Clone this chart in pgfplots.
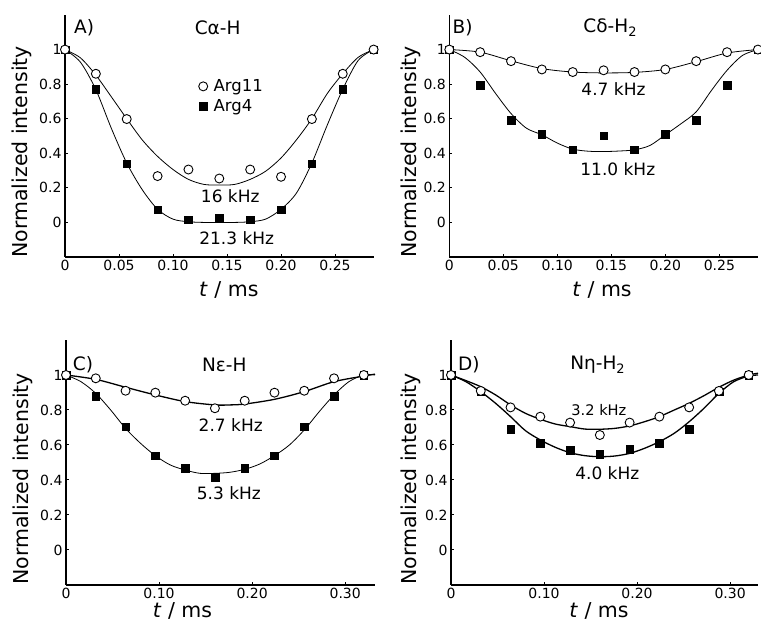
\documentclass[border=0pt]{standalone}
\usepackage{pgfplots}
\pgfplotsset{compat=1.18}
\usepackage{fontspec}
\setmainfont{DejaVu Sans}
\newcommand{\fs}[1]{\fontsize{#1}{#1}\selectfont}
\tikzset{
  sq/.style={only marks, mark=square*, mark size=3.8pt, mark options={fill=black, draw=black}},
  ci/.style={only marks, mark=*, mark size=4.5pt, mark options={fill=white, draw=black, line width=0.9pt}},
  ann/.style={inner sep=0pt, font=\fs{17}},
  ttl/.style={inner sep=0pt, anchor=west, font=\fs{18.5}},
}
\pgfplotsset{
  mystyle/.style={
    scale only axis, clip=false,
    axis lines=left, axis line style={-, line width=1.4pt},
    ymin=-0.2, ymax=1.2,
    ytick={0,0.2,0.4,0.6,0.8,1}, yticklabels={0,0.2,0.4,0.6,0.8,1},
    tick align=inside, major tick length=3pt, tick style={line width=1pt, black},
    ticklabel style={font=\fs{14}},
    label style={font=\fs{20.5}},
    ylabel={Normalized intensity},
    xlabel={\textit{t} / ms},
  },
  fit/.style={smooth, no marks, line width=0.8pt, black},
  fitb/.style={smooth, no marks, line width=1.3pt, black},
}
\begin{document}
\begin{tikzpicture}
\useasboundingbox (0,0) rectangle (761pt,621pt);
% ---------------- A ----------------
\begin{axis}[mystyle, at={(65pt,364pt)}, anchor=south west, width=308.6pt, height=242pt,
  xmin=0, xmax=0.2857,
  xtick={0,0.05,0.1,0.15,0.2,0.25}, xticklabels={0,0.05,0.10,0.15,0.20,0.25},
  ylabel style={at={(rel axis cs:-0.139,0.435)}, anchor=center},
  xlabel style={at={(rel axis cs:0.531,-0.136)}, anchor=center},
  legend style={at={(axis cs:0.1236,0.839)}, anchor=north west, draw=none, fill=none,
    font=\fs{16.5}, row sep=2.5pt, inner sep=0pt, nodes={inner sep=2pt},
    /tikz/every odd column/.append style={column sep=4pt}},
  legend cell align=left,
  legend image code/.code={\draw[#1] plot coordinates {(0.16cm,0cm)};},
]
\addplot[fit, forget plot] coordinates {(0,1) (0.01429,0.952) (0.02857,0.852) (0.04286,0.727) (0.05714,0.60) (0.07143,0.478) (0.08571,0.382) (0.1,0.306) (0.11429,0.249) (0.12857,0.22) (0.14286,0.216) (0.15714,0.22) (0.17143,0.249) (0.18571,0.296) (0.2,0.373) (0.21429,0.478) (0.22857,0.60) (0.24286,0.746) (0.25714,0.86) (0.27143,0.955) (0.28571,1)};
\addplot[fit, forget plot] coordinates {(0,1) (0.01429,0.927) (0.02857,0.768) (0.04286,0.545) (0.05714,0.344) (0.07143,0.19) (0.08571,0.076) (0.1,0.019) (0.11429,0.004) (0.12857,0) (0.14286,0) (0.15714,0) (0.17143,0.004) (0.18571,0.019) (0.2,0.076) (0.21429,0.17) (0.22857,0.344) (0.24286,0.564) (0.25714,0.77) (0.27143,0.937) (0.28571,1)};
\addplot[sq, forget plot] coordinates {(0,1) (0.02857,0.769) (0.05714,0.34) (0.08571,0.073) (0.11429,0.015) (0.14286,0.025) (0.17143,0.015) (0.2,0.073) (0.22857,0.34) (0.25714,0.769) (0.28571,1)};
\addplot[ci, forget plot] coordinates {(0,1) (0.02857,0.86) (0.05714,0.598) (0.08571,0.268) (0.11429,0.306) (0.14286,0.254) (0.17143,0.306) (0.2,0.264) (0.22857,0.598) (0.25714,0.86) (0.28571,1)};
\addlegendimage{ci}\addlegendentry{Arg11}
\addlegendimage{sq}\addlegendentry{Arg4}
\node[ttl] at (axis cs:0.0083,1.126) {A)};
\node[ttl] at (axis cs:0.120,1.126) {Cα-H};
\node[ann] at (axis cs:0.153,0.15) {16 kHz};
\node[ann] at (axis cs:0.159,-0.092) {21.3 kHz};
\end{axis}
% ---------------- B ----------------
\begin{axis}[mystyle, at={(449.3pt,364pt)}, anchor=south west, width=308.6pt, height=242pt,
  xmin=0, xmax=0.2857,
  xtick={0,0.05,0.1,0.15,0.2,0.25}, xticklabels={0,0.05,0.10,0.15,0.20,0.25},
  ylabel style={at={(rel axis cs:-0.124,0.435)}, anchor=center},
  xlabel style={at={(rel axis cs:0.495,-0.136)}, anchor=center},
]
\addplot[fit] coordinates {(0,1) (0.02857,0.985) (0.05714,0.935) (0.08571,0.89) (0.11429,0.87) (0.14286,0.865) (0.17143,0.868) (0.2,0.885) (0.22857,0.93) (0.25714,0.98) (0.28571,1)};
\addplot[fit] coordinates {(0,1) (0.01429,0.955) (0.02857,0.87) (0.04286,0.746) (0.05714,0.63) (0.07143,0.545) (0.08571,0.507) (0.1,0.459) (0.11429,0.424) (0.12857,0.412) (0.14286,0.41) (0.15714,0.413) (0.17143,0.42) (0.18571,0.445) (0.2,0.507) (0.21429,0.57) (0.22857,0.64) (0.24286,0.765) (0.25714,0.88) (0.27143,0.966) (0.28571,1)};
\addplot[sq] coordinates {(0,1) (0.02857,0.793) (0.05714,0.593) (0.08571,0.511) (0.11429,0.421) (0.14286,0.501) (0.17143,0.421) (0.2,0.511) (0.22857,0.593) (0.25714,0.793) (0.28571,1)};
\addplot[ci] coordinates {(0,1) (0.02857,0.985) (0.05714,0.933) (0.08571,0.885) (0.11429,0.87) (0.14286,0.88) (0.17143,0.87) (0.2,0.885) (0.22857,0.933) (0.25714,0.985) (0.28571,1)};
\node[ttl] at (axis cs:0.003,1.126) {B)};
\node[ttl] at (axis cs:0.124,1.126) {Cδ-H\textsubscript{2}};
\node[ann] at (axis cs:0.152,0.769) {4.7 kHz};
\node[ann] at (axis cs:0.156,0.31) {11.0 kHz};
\end{axis}
% ---------------- C ----------------
\begin{axis}[mystyle, at={(66pt,36pt)}, anchor=south west, width=309pt, height=245pt,
  xmin=0, xmax=0.332,
  xtick={0,0.1,0.2,0.3}, xticklabels={0,0.10,0.20,0.30},
  ylabel style={at={(rel axis cs:-0.141,0.433)}, anchor=center},
  xlabel style={at={(rel axis cs:0.377,-0.104)}, anchor=center},
]
\addplot[fitb] coordinates {(0,1) (0.032,0.975) (0.064,0.93) (0.096,0.886) (0.128,0.848) (0.16,0.829) (0.176,0.829) (0.192,0.834) (0.224,0.861) (0.256,0.905) (0.288,0.962) (0.32,0.994) (0.332,1.005)};
\addplot[fit] coordinates {(0,1) (0.016,0.962) (0.032,0.895) (0.048,0.80) (0.064,0.695) (0.08,0.61) (0.096,0.539) (0.112,0.486) (0.128,0.457) (0.144,0.438) (0.16,0.438) (0.176,0.444) (0.192,0.461) (0.208,0.491) (0.224,0.539) (0.24,0.60) (0.256,0.686) (0.272,0.79) (0.288,0.886) (0.304,0.962) (0.32,1.0) (0.332,1.0)};
\addplot[sq] coordinates {(0,1) (0.032,0.88) (0.064,0.705) (0.096,0.539) (0.128,0.467) (0.16,0.415) (0.192,0.467) (0.224,0.539) (0.256,0.705) (0.288,0.88) (0.32,1)};
\addplot[ci] coordinates {(0,1) (0.032,0.981) (0.064,0.91) (0.096,0.899) (0.128,0.853) (0.16,0.81) (0.192,0.853) (0.224,0.899) (0.256,0.91) (0.288,0.981) (0.32,1)};
\node[ttl] at (axis cs:0.0072,1.057) {C)};
\node[ttl] at (axis cs:0.146,1.057) {Nε-H};
\node[ann] at (axis cs:0.177,0.714) {2.7 kHz};
\node[ann] at (axis cs:0.175,0.327) {5.3 kHz};
\end{axis}
% ---------------- D ----------------
\begin{axis}[mystyle, at={(451pt,36pt)}, anchor=south west, width=307pt, height=245pt,
  xmin=0, xmax=0.330,
  xtick={0,0.1,0.2,0.3}, xticklabels={0,0.10,0.20,0.30},
  ylabel style={at={(rel axis cs:-0.130,0.433)}, anchor=center},
  xlabel style={at={(rel axis cs:0.482,-0.104)}, anchor=center},
]
\addplot[fitb] coordinates {(0,1) (0.016,0.968) (0.032,0.933) (0.048,0.886) (0.064,0.829) (0.08,0.781) (0.096,0.747) (0.112,0.72) (0.128,0.705) (0.144,0.691) (0.16,0.69) (0.176,0.695) (0.192,0.709) (0.208,0.733) (0.224,0.762) (0.24,0.80) (0.256,0.838) (0.272,0.882) (0.288,0.93) (0.304,0.971) (0.32,1.0) (0.330,1.01)};
\addplot[fitb] coordinates {(0,1) (0.016,0.962) (0.032,0.905) (0.048,0.838) (0.064,0.762) (0.08,0.682) (0.096,0.629) (0.112,0.587) (0.128,0.556) (0.144,0.539) (0.16,0.533) (0.176,0.537) (0.192,0.552) (0.208,0.581) (0.224,0.619) (0.24,0.667) (0.256,0.733) (0.272,0.81) (0.288,0.895) (0.304,0.962) (0.32,0.994) (0.330,1.0)};
\addplot[sq] coordinates {(0,1) (0.032,0.905) (0.064,0.69) (0.096,0.61) (0.128,0.571) (0.16,0.549) (0.192,0.575) (0.224,0.61) (0.256,0.69) (0.288,0.905) (0.32,1)};
\addplot[ci] coordinates {(0,1) (0.032,0.909) (0.064,0.815) (0.096,0.762) (0.128,0.728) (0.16,0.657) (0.192,0.728) (0.224,0.762) (0.256,0.815) (0.288,0.909) (0.32,1)};
\node[ttl] at (axis cs:0.0075,1.057) {D)};
\node[ttl] at (axis cs:0.128,1.057) {Nη-H\textsubscript{2}};
\node[ann, font=\fs{14.6}] at (axis cs:0.159,0.80) {3.2 kHz};
\node[ann] at (axis cs:0.168,0.438) {4.0 kHz};
\end{axis}
\end{tikzpicture}
\end{document}
